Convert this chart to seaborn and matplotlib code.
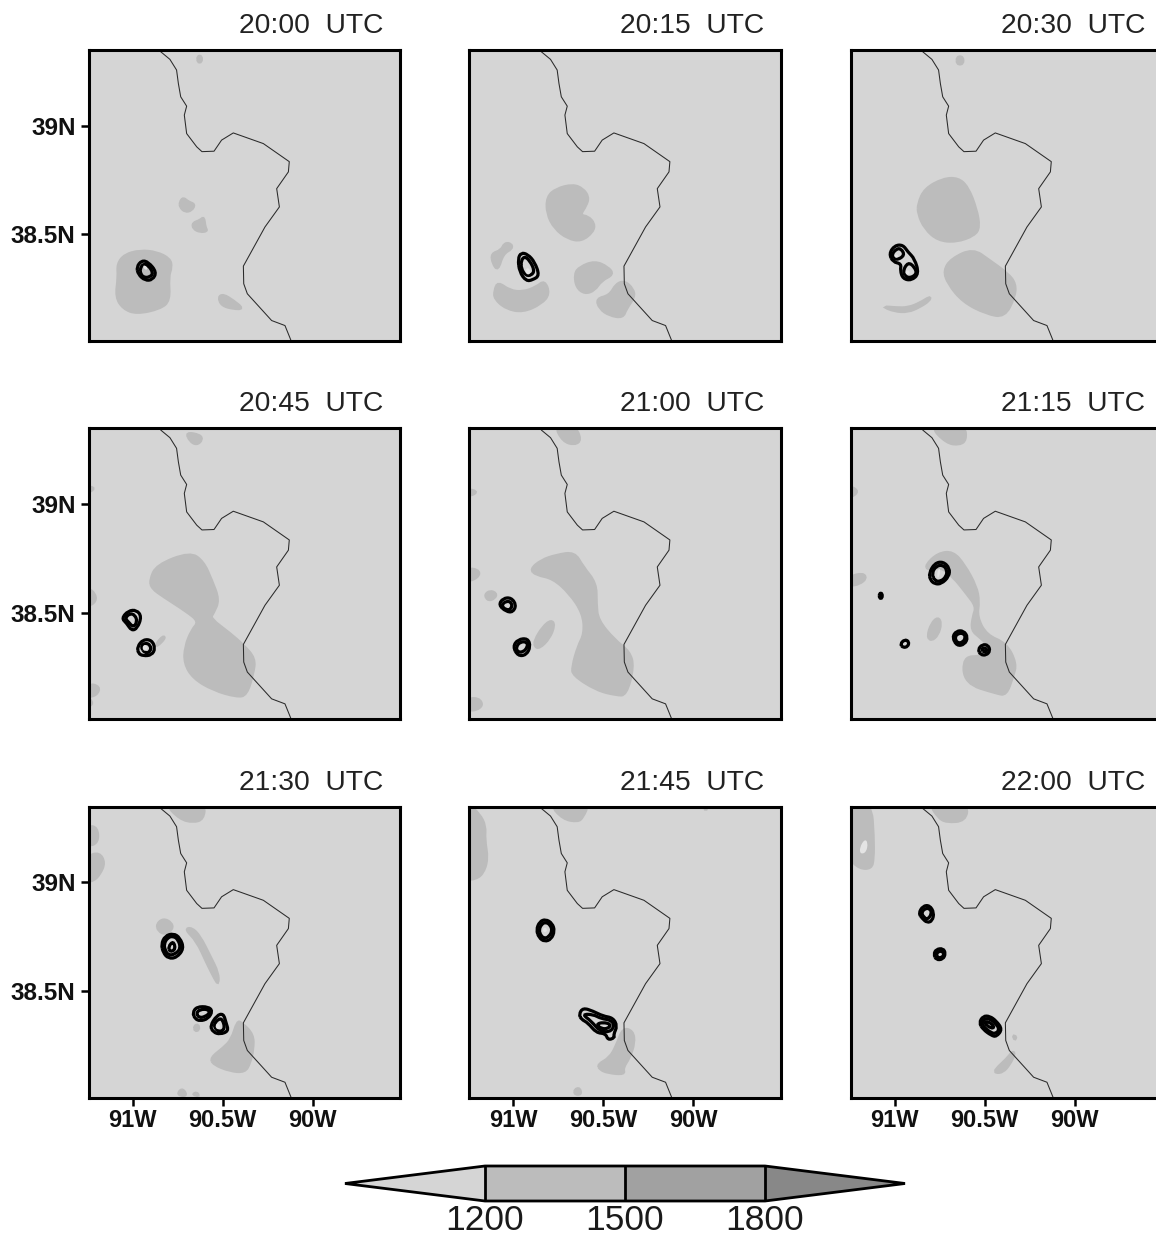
import numpy as np
import pandas as pd
import matplotlib
matplotlib.use("Agg")
import matplotlib.pyplot as plt
from matplotlib.cm import ScalarMappable
from matplotlib.colors import BoundaryNorm, ListedColormap
from matplotlib.patches import PathPatch
from matplotlib.path import Path
import seaborn as sns

times = ["20:00", "20:15", "20:30", "20:45", "21:00", "21:15", "21:30", "21:45", "22:00"]
x_ticks = [-91.0, -90.5, -90.0]
x_labels = ["91W", "90.5W", "90W"]
y_ticks = [39.0, 38.5]
y_labels = ["39N", "38.5N"]
levels = [1200, 1500, 1800]
level_colors = ["#d5d5d5", "#bcbcbc", "#a1a1a1", "#888888"]

border_lon = [-90.844, -90.793, -90.756, -90.746, -90.733, -90.700, -90.713, -90.700, -90.644, -90.615, -90.548,
              -90.506, -90.441, -90.274, -90.130, -90.135, -90.200, -90.185, -90.265, -90.385, -90.383, -90.363,
              -90.228, -90.154, -90.107]
border_lat = [39.339, 39.304, 39.255, 39.193, 39.132, 39.089, 39.048, 38.963, 38.902, 38.880, 38.882,
              38.933, 38.966, 38.917, 38.834, 38.787, 38.710, 38.626, 38.534, 38.354, 38.273, 38.227,
              38.104, 38.081, 37.985]

fills_2000 = [
    ([-90.959, -90.867, -90.793, -90.783, -90.802, -90.793, -90.848, -90.978, -91.052, -91.094, -91.080, -91.085, -91.043],
     [38.426, 38.419, 38.388, 38.350, 38.304, 38.196, 38.158, 38.135, 38.158, 38.212, 38.304, 38.365, 38.408]),
    ([-90.737, -90.719, -90.691, -90.654, -90.672, -90.709, -90.737], [38.649, 38.669, 38.649, 38.638, 38.610, 38.603, 38.626]),
    ([-90.667, -90.626, -90.604, -90.598, -90.585, -90.626, -90.663], [38.552, 38.564, 38.580, 38.534, 38.515, 38.511, 38.526]),
    ([-90.524, -90.496, -90.441, -90.385, -90.441, -90.506], [38.212, 38.224, 38.196, 38.158, 38.158, 38.173]),
    ([-90.639, -90.617, -90.617, -90.639], [39.319, 39.319, 39.291, 39.291]),
]
rings_2000 = [
    ([-90.978, -90.950, -90.913, -90.867, -90.889, -90.931, -90.969], [38.350, 38.380, 38.373, 38.327, 38.291, 38.288, 38.316]),
    ([-90.959, -90.941, -90.913, -90.885, -90.904, -90.937, -90.956], [38.342, 38.365, 38.358, 38.322, 38.304, 38.301, 38.319]),
]
holes_2000 = [([-90.944, -90.925, -90.915, -90.935], [38.358, 38.355, 38.338, 38.338])]

fills_2015 = [
    ([-90.813, -90.761, -90.669, -90.613, -90.581, -90.594, -90.631, -90.585, -90.548, -90.557, -90.622, -90.696, -90.770, -90.813],
     [38.672, 38.710, 38.729, 38.710, 38.672, 38.633, 38.587, 38.583, 38.549, 38.511, 38.469, 38.480, 38.526, 38.595]),
    ([-91.122, -91.067, -91.048, -91.011, -91.006, -91.057, -91.085, -91.113], [38.411, 38.426, 38.460, 38.457, 38.434, 38.411, 38.334, 38.365]),
    ([-91.085, -91.020, -90.946, -90.872, -90.826, -90.798, -90.844, -90.946, -91.039, -91.104, -91.104],
     [38.281, 38.242, 38.235, 38.258, 38.288, 38.227, 38.181, 38.143, 38.158, 38.204, 38.242]),
    ([-90.659, -90.631, -90.548, -90.474, -90.443, -90.511, -90.548, -90.604, -90.650],
     [38.319, 38.350, 38.377, 38.350, 38.316, 38.288, 38.242, 38.227, 38.258]),
    ([-90.539, -90.465, -90.428, -90.381, -90.335, -90.326, -90.372, -90.391, -90.465, -90.520],
     [38.204, 38.219, 38.273, 38.285, 38.250, 38.212, 38.158, 38.117, 38.127, 38.158]),
]
rings_2015 = [
    ([-90.974, -90.956, -90.919, -90.881, -90.854, -90.891, -90.928, -90.965], [38.388, 38.416, 38.408, 38.373, 38.311, 38.291, 38.285, 38.327]),
    ([-90.956, -90.937, -90.909, -90.881, -90.900, -90.931, -90.956], [38.380, 38.399, 38.380, 38.334, 38.311, 38.311, 38.342]),
]
holes_2015 = [([-90.937, -90.919, -90.900, -90.919], [38.331, 38.350, 38.327, 38.311])]

fills_2030 = [
    ([-90.870, -90.833, -90.731, -90.648, -90.593, -90.546, -90.528, -90.556, -90.657, -90.759, -90.833, -90.870],
     [38.641, 38.710, 38.756, 38.759, 38.718, 38.618, 38.534, 38.495, 38.465, 38.472, 38.526, 38.595]),
    ([-90.728, -90.685, -90.565, -90.472, -90.370, -90.328, -90.333, -90.389, -90.491, -90.620, -90.704],
     [38.334, 38.388, 38.434, 38.380, 38.319, 38.273, 38.212, 38.120, 38.135, 38.189, 38.273]),
    ([-91.069, -90.991, -90.926, -90.861, -90.802, -90.806, -90.861, -90.926, -91.000],
     [38.169, 38.163, 38.163, 38.184, 38.215, 38.196, 38.166, 38.143, 38.146]),
    ([-90.654, -90.620, -90.620, -90.654], [39.316, 39.316, 39.282, 39.282]),
]
rings_2030 = [
    ([-91.031, -91.000, -90.954, -90.926, -90.889, -90.865, -90.907, -90.954, -90.969, -90.963, -91.009],
     [38.411, 38.449, 38.452, 38.419, 38.388, 38.319, 38.288, 38.296, 38.334, 38.365, 38.373]),
    ([-91.019, -90.991, -90.963, -90.944, -90.991], [38.403, 38.434, 38.434, 38.403, 38.380]),
    ([-90.957, -90.926, -90.889, -90.876, -90.926], [38.327, 38.373, 38.350, 38.316, 38.296]),
]
holes_2030 = [([-91.000, -90.981, -90.981, -91.000], [38.408, 38.408, 38.393, 38.393]),
              ([-90.939, -90.917, -90.917, -90.939], [38.334, 38.334, 38.316, 38.316])]

fills_2045 = [
    ([-90.904, -90.867, -90.681, -90.607, -90.561, -90.519, -90.552, -90.570, -90.459, -90.385, -90.320, -90.330, -90.367, -90.422, -90.552, -90.663, -90.713, -90.709, -90.672, -90.631, -90.700, -90.830, -90.894],
     [38.650, 38.719, 38.778, 38.735, 38.650, 38.558, 38.497, 38.474, 38.405, 38.351, 38.290, 38.221, 38.121, 38.113, 38.144, 38.198, 38.267, 38.344, 38.420, 38.459, 38.505, 38.574, 38.612]),
    ([-90.704, -90.626, -90.613, -90.644, -90.681], [39.328, 39.317, 39.294, 39.271, 39.287]),
    ([-90.867, -90.830, -90.820, -90.867], [38.359, 38.393, 38.382, 38.344]),
    ([-91.250, -91.209, -91.250], [39.080, 39.072, 39.049]),
    ([-91.250, -91.209, -91.204, -91.250], [38.612, 38.589, 38.551, 38.528]),
    ([-91.250, -91.181, -91.200, -91.250, -91.219, -91.250], [38.175, 38.160, 38.121, 38.113, 38.083, 38.067]),
]
rings_2045 = [
    ([-91.061, -91.024, -90.978, -90.950, -90.974, -91.006, -91.033], [38.474, 38.509, 38.512, 38.482, 38.428, 38.417, 38.451]),
    ([-91.043, -91.015, -90.987, -90.974, -90.996, -91.024], [38.474, 38.497, 38.489, 38.459, 38.432, 38.458]),
    ([-90.974, -90.941, -90.894, -90.874, -90.894, -90.941, -90.969], [38.344, 38.377, 38.374, 38.336, 38.305, 38.301, 38.313]),
    ([-90.956, -90.931, -90.900, -90.900, -90.931], [38.344, 38.362, 38.351, 38.321, 38.313]),
]
holes_2045 = [([-90.944, -90.919, -90.919, -90.944], [38.351, 38.351, 38.325, 38.325])]

fills_2100 = [
    ([-90.906, -90.844, -90.761, -90.659, -90.613, -90.539, -90.539, -90.530, -90.437, -90.354, -90.331, -90.372, -90.428, -90.539, -90.669, -90.672, -90.641, -90.604, -90.613, -90.687, -90.780, -90.872],
     [38.699, 38.742, 38.765, 38.778, 38.712, 38.635, 38.543, 38.466, 38.374, 38.321, 38.252, 38.121, 38.121, 38.144, 38.213, 38.252, 38.344, 38.405, 38.497, 38.589, 38.658, 38.673]),
    ([-90.881, -90.835, -90.789, -90.770, -90.798, -90.854, -90.881], [38.374, 38.436, 38.466, 38.443, 38.382, 38.336, 38.344]),
    ([-91.159, -91.130, -91.093, -91.102, -91.139], [38.581, 38.601, 38.589, 38.566, 38.555]),
    ([-90.770, -90.659, -90.622, -90.659, -90.724], [39.360, 39.360, 39.294, 39.271, 39.287]),
    ([-91.250, -91.196, -91.187, -91.224, -91.250], [38.704, 38.696, 38.673, 38.650, 38.650]),
    ([-91.250, -91.191, -91.169, -91.206, -91.250], [38.106, 38.106, 38.075, 38.052, 38.052]),
    ([-91.250, -91.202, -91.224, -91.250], [39.067, 39.057, 39.041, 39.041]),
]
rings_2100 = [
    ([-91.081, -91.057, -91.011, -90.983, -91.002, -91.039], [38.535, 38.566, 38.569, 38.535, 38.502, 38.505]),
    ([-91.067, -91.039, -91.006, -91.011, -91.039], [38.532, 38.555, 38.546, 38.515, 38.512]),
    ([-91.002, -90.974, -90.919, -90.904, -90.928, -90.974], [38.344, 38.377, 38.382, 38.344, 38.305, 38.301]),
    ([-90.983, -90.961, -90.924, -90.919, -90.946, -90.980], [38.344, 38.366, 38.366, 38.344, 38.317, 38.321]),
]
holes_2100 = []

fills_2115 = [
    ([-90.828, -90.759, -90.676, -90.611, -90.546, -90.531, -90.543, -90.491, -90.380, -90.324, -90.343, -90.380, -90.435, -90.611, -90.620, -90.509, -90.469, -90.528, -90.574, -90.565, -90.546, -90.602, -90.676, -90.750, -90.815],
     [38.719, 38.773, 38.781, 38.719, 38.620, 38.551, 38.482, 38.397, 38.359, 38.267, 38.206, 38.121, 38.129, 38.175, 38.298, 38.298, 38.344, 38.387, 38.420, 38.482, 38.528, 38.589, 38.666, 38.712, 38.696]),
    ([-90.819, -90.796, -90.759, -90.741, -90.759, -90.796], [38.390, 38.451, 38.479, 38.451, 38.397, 38.371]),
    ([-90.806, -90.611, -90.602, -90.639, -90.713], [39.360, 39.360, 39.294, 39.271, 39.279]),
    ([-91.250, -91.176, -91.157, -91.194, -91.250], [38.666, 38.681, 38.658, 38.632, 38.623]),
    ([-91.250, -91.198, -91.250], [39.083, 39.057, 39.026]),
]
rings_2115 = [
    ([-90.809, -90.778, -90.731, -90.694, -90.698, -90.741, -90.778, -90.802], [38.681, 38.727, 38.735, 38.704, 38.666, 38.632, 38.632, 38.650]),
    ([-90.794, -90.769, -90.731, -90.709, -90.713, -90.744, -90.778], [38.681, 38.715, 38.719, 38.696, 38.666, 38.643, 38.646]),
    ([-90.680, -90.657, -90.617, -90.593, -90.611, -90.654], [38.387, 38.416, 38.417, 38.387, 38.354, 38.347]),
    ([-90.667, -90.648, -90.617, -90.606, -90.620, -90.652], [38.386, 38.405, 38.405, 38.387, 38.364, 38.359]),
    ([-90.537, -90.513, -90.481, -90.469, -90.491, -90.524], [38.331, 38.354, 38.351, 38.325, 38.304, 38.307]),
    ([-90.519, -90.500, -90.485, -90.500], [38.331, 38.340, 38.328, 38.316]),
    ([-91.085, -91.069, -91.069, -91.085], [38.589, 38.589, 38.566, 38.566]),
    ([-90.969, -90.944, -90.920, -90.926, -90.954], [38.356, 38.377, 38.367, 38.344, 38.339]),
]
holes_2115 = [([-90.761, -90.746, -90.750, -90.765], [38.696, 38.704, 38.666, 38.658])]

fills_2130 = [
    ([-90.567, -90.496, -90.450, -90.419, -90.394, -90.330, -90.330, -90.348, -90.376, -90.459, -90.552],
     [38.193, 38.239, 38.278, 38.362, 38.354, 38.301, 38.232, 38.170, 38.127, 38.132, 38.163]),
    ([-90.709, -90.672, -90.626, -90.570, -90.524, -90.524, -90.543, -90.589, -90.644], [38.784, 38.791, 38.753, 38.661, 38.584, 38.531, 38.554, 38.630, 38.730]),
    ([-90.867, -90.830, -90.783, -90.778, -90.820, -90.857], [38.807, 38.833, 38.814, 38.784, 38.761, 38.776]),
    ([-90.820, -90.598, -90.607, -90.663, -90.737], [39.360, 39.360, 39.290, 39.275, 39.290]),
    ([-91.250, -91.196, -91.191, -91.250], [39.259, 39.252, 39.183, 39.164]),
    ([-91.250, -91.185, -91.154, -91.181, -91.219, -91.250], [39.121, 39.136, 39.090, 39.037, 39.006, 39.006]),
    ([-90.752, -90.728, -90.704, -90.709], [38.025, 38.052, 38.032, 38.017]),
    ([-90.659, -90.635, -90.631, -90.654], [38.339, 38.347, 38.321, 38.316]),
    ([-90.667, -90.644, -90.631], [38.025, 38.035, 38.017]),
]
rings_2130 = [
    ([-90.841, -90.820, -90.774, -90.737, -90.715, -90.756, -90.802, -90.830], [38.715, 38.753, 38.765, 38.745, 38.695, 38.653, 38.650, 38.676]),
    ([-90.826, -90.807, -90.774, -90.746, -90.733, -90.765, -90.802, -90.820], [38.715, 38.745, 38.753, 38.735, 38.695, 38.669, 38.664, 38.689]),
    ([-90.802, -90.774, -90.761, -90.793], [38.704, 38.730, 38.692, 38.679]),
    ([-90.667, -90.644, -90.580, -90.556, -90.580, -90.626, -90.654], [38.400, 38.428, 38.428, 38.408, 38.373, 38.362, 38.373]),
    ([-90.648, -90.626, -90.580, -90.570, -90.598, -90.630], [38.397, 38.416, 38.416, 38.400, 38.382, 38.377]),
    ([-90.570, -90.533, -90.496, -90.481, -90.467, -90.515, -90.552], [38.339, 38.388, 38.397, 38.354, 38.316, 38.301, 38.311]),
    ([-90.552, -90.524, -90.500, -90.487, -90.524], [38.342, 38.373, 38.370, 38.324, 38.311]),
]
holes_2130 = [([-90.543, -90.524, -90.509, -90.530], [38.342, 38.354, 38.331, 38.321])]

fills_2145 = [
    ([-90.530, -90.465, -90.428, -90.391, -90.335, -90.326, -90.354, -90.391, -90.381, -90.474, -90.520],
     [38.163, 38.193, 38.247, 38.331, 38.316, 38.262, 38.193, 38.147, 38.117, 38.124, 38.140]),
    ([-91.250, -91.187, -91.154, -91.159, -91.141, -91.169, -91.215, -91.250], [39.360, 39.313, 39.259, 39.198, 39.106, 39.037, 39.014, 39.014]),
    ([-90.798, -90.580, -90.613, -90.641, -90.724], [39.360, 39.360, 39.298, 39.278, 39.290]),
    ([-90.659, -90.631, -90.622, -90.659], [38.048, 38.055, 38.025, 38.025]),
    ([-89.943, -89.919, -89.931], [39.360, 39.360, 39.324]),
]
rings_2145 = [
    ([-90.872, -90.854, -90.820, -90.783, -90.770, -90.789, -90.826, -90.857], [38.781, 38.819, 38.830, 38.811, 38.776, 38.738, 38.727, 38.745]),
    ([-90.857, -90.843, -90.820, -90.794, -90.783, -90.802, -90.826, -90.848], [38.781, 38.807, 38.817, 38.804, 38.776, 38.750, 38.741, 38.756]),
    ([-90.635, -90.613, -90.557, -90.502, -90.446, -90.422, -90.443, -90.437, -90.474, -90.487, -90.539, -90.585, -90.622],
     [38.393, 38.423, 38.408, 38.385, 38.377, 38.339, 38.301, 38.285, 38.275, 38.305, 38.308, 38.354, 38.370]),
    ([-90.617, -90.557, -90.511, -90.456, -90.437, -90.465, -90.520, -90.567], [38.393, 38.393, 38.373, 38.367, 38.339, 38.311, 38.316, 38.362]),
    ([-90.539, -90.502, -90.456, -90.474, -90.511], [38.347, 38.357, 38.347, 38.327, 38.327]),
]
holes_2145 = [([-90.835, -90.813, -90.813, -90.835], [38.791, 38.791, 38.771, 38.771])]

fills_2200 = [
    ([-91.250, -91.130, -91.117, -91.117, -91.130, -91.194, -91.250], [39.360, 39.360, 39.213, 39.106, 39.063, 39.063, 39.106]),
    ([-90.806, -90.593, -90.606, -90.713, -90.759], [39.360, 39.360, 39.282, 39.275, 39.298]),
    ([-90.441, -90.380, -90.343, -90.333, -90.361, -90.398, -90.441], [38.140, 38.186, 38.224, 38.209, 38.163, 38.127, 38.124]),
    ([-90.343, -90.324, -90.333], [38.296, 38.290, 38.275]),
]
rings_2200 = [
    ([-90.867, -90.843, -90.806, -90.781, -90.791, -90.820, -90.846], [38.857, 38.891, 38.894, 38.860, 38.822, 38.814, 38.833]),
    ([-90.852, -90.833, -90.802, -90.794, -90.820, -90.839], [38.857, 38.880, 38.879, 38.853, 38.827, 38.842]),
    ([-90.783, -90.769, -90.731, -90.717, -90.731, -90.769], [38.669, 38.692, 38.696, 38.673, 38.646, 38.643]),
    ([-90.769, -90.754, -90.731, -90.726, -90.744, -90.763], [38.669, 38.684, 38.681, 38.664, 38.652, 38.655]),
    ([-90.531, -90.509, -90.472, -90.435, -90.402, -90.435, -90.463, -90.509], [38.354, 38.385, 38.385, 38.362, 38.324, 38.290, 38.296, 38.324]),
    ([-90.519, -90.500, -90.472, -90.439, -90.417, -90.439, -90.463, -90.500], [38.354, 38.373, 38.373, 38.351, 38.324, 38.304, 38.308, 38.331]),
    ([-90.506, -90.481, -90.444, -90.463], [38.354, 38.362, 38.336, 38.327]),
]
holes_2200 = [([-91.194, -91.167, -91.148, -91.157, -91.191], [39.160, 39.198, 39.183, 39.137, 39.129])]

panel_fills = [fills_2000, fills_2015, fills_2030, fills_2045, fills_2100, fills_2115, fills_2130, fills_2145, fills_2200]
panel_rings = [rings_2000, rings_2015, rings_2030, rings_2045, rings_2100, rings_2115, rings_2130, rings_2145, rings_2200]
panel_holes = [holes_2000, holes_2015, holes_2030, holes_2045, holes_2100, holes_2115, holes_2130, holes_2145, holes_2200]

sns.set_theme(style="white")
plt.rcParams["font.family"] = ["Liberation Sans", "DejaVu Sans"]

W, H = 1156, 1239
fig = plt.figure(figsize=(W / 100, H / 100), dpi=100, facecolor="white")
lefts = [88.7, 469.3, 850.7]
tops = [50.0, 428.3, 806.7]
AW, AH = 311.5, 291.0


def rounded_outline(lon, lat):
    """Closed outline through the read-off vertices, with the corners rounded by quadratic curves."""
    pts = np.column_stack([lon, lat])
    nxt = np.roll(pts, -1, axis=0)
    mids = (pts + nxt) / 2
    verts = [mids[-1]]
    codes = [Path.MOVETO]
    for p, m in zip(pts, mids):
        verts += [p, m]
        codes += [Path.CURVE3, Path.CURVE3]
    return Path(np.array(verts), codes)


for i, t in enumerate(times):
    row, col = divmod(i, 3)
    ax = fig.add_axes([lefts[col] / W, 1 - (tops[row] + AH) / H, AW / W, AH / H], facecolor=level_colors[0])
    for lon, lat in panel_fills[i]:
        ax.add_patch(PathPatch(rounded_outline(lon, lat), facecolor=level_colors[1], edgecolor=level_colors[1],
                               lw=2.0, zorder=1))
    sns.lineplot(x=border_lon, y=border_lat, sort=False, estimator=None, color="#2a2a2a", lw=0.75, ax=ax, zorder=2)
    for lon, lat in panel_rings[i]:
        ax.add_patch(PathPatch(rounded_outline(lon, lat), facecolor="none", edgecolor="black", lw=2.3, zorder=3))
    for lon, lat in panel_holes[i]:
        ax.add_patch(PathPatch(rounded_outline(lon, lat), facecolor="#e4e4e4", edgecolor="none", zorder=4))
    ax.set_xlim(-91.244, -89.514)
    ax.set_ylim(38.010, 39.347)
    ax.set_xticks(x_ticks)
    ax.set_yticks(y_ticks)
    ax.set_xticklabels(x_labels if row == 2 else [], fontsize=17, fontweight="bold")
    ax.set_yticklabels(y_labels if col == 0 else [], fontsize=17.5, fontweight="bold")
    ax.tick_params(axis="x", bottom=row == 2, length=6, width=1.8, color="black", labelcolor="#111111", pad=2)
    ax.tick_params(axis="y", left=col == 0, length=5.5, width=1.8, color="black", labelcolor="#111111", pad=4)
    ax.grid(False)
    ax.set_xlabel("")
    ax.set_ylabel("")
    for s in ax.spines.values():
        s.set_visible(True)
        s.set_color("black")
        s.set_linewidth(2.2)
    ax.text(294.5 / AW, 1 + 17 / AH, f"{t}  UTC", transform=ax.transAxes, ha="right",
            va="baseline", fontsize=20.3, color="#222222")

cax = fig.add_axes([345 / W, 1 - 1201 / H, 560 / W, 35 / H])
cmap = ListedColormap(level_colors[1:3])
cmap.set_under(level_colors[0])
cmap.set_over(level_colors[3])
norm = BoundaryNorm(levels, cmap.N)
cb = fig.colorbar(ScalarMappable(norm=norm, cmap=cmap), cax=cax, orientation="horizontal", extend="both",
                  extendfrac=0.5, drawedges=True, ticks=levels)
cb.outline.set_edgecolor("black")
cb.outline.set_linewidth(2.0)
cb.dividers.set_color("black")
cb.dividers.set_linewidth(2.0)
cb.ax.tick_params(bottom=False, length=0, labelsize=25.5, pad=2.5, labelcolor="#1a1a1a")

fig.savefig("out.png", dpi=100, facecolor="white")
